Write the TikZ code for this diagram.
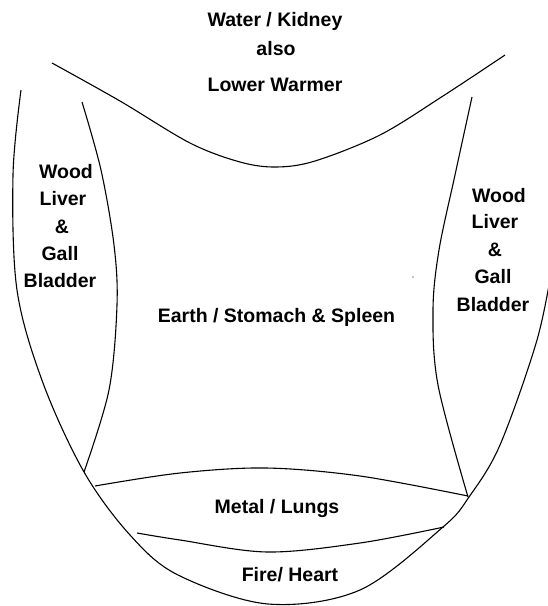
\documentclass[tikz,border=0pt]{standalone}
\usepackage{fontspec}
\setmainfont{Liberation Sans}
\begin{document}
\begin{tikzpicture}[x=1pt,y=-1pt,
  boundary/.style={line width=1.1pt, black},
  lbl/.style={anchor=base, inner sep=0pt, font=\fontsize{19.5}{23}\selectfont\bfseries},
]
\useasboundingbox (0,0) rectangle (548,606);
\begin{scope}
\clip (0,0) rectangle (548,606);
% outer U
\draw[boundary] plot[smooth, tension=0.55] coordinates {
  (21,90) (13,175) (17,290) (43,383) (84,472)
  (130,535) (178,575) (268,604) (360,590)
  (443,527) (469,497) (500,445) (537,340) (553,262)};
\end{scope}
% top curve (water)
\draw[boundary] plot[smooth, tension=0.55] coordinates {
  (52,63) (120,101) (190,143) (240,162) (276,167) (315,161) (380,135) (443,96) (505,55)};
% left inner (wood)
\draw[boundary] plot[smooth, tension=0.55] coordinates {
  (82,102) (101,170) (114,245) (117,305) (109,390) (84,472)};
% right inner (wood)
\draw[boundary] plot[smooth, tension=0.55] coordinates {
  (472,97) (455,175) (439,250) (433,310) (438,385) (468,497)};
% metal top
\draw[boundary] plot[smooth, tension=0.55] coordinates {
  (95,486) (180,473) (266,468) (360,476) (468,496)};
% metal bottom / fire top
\draw[boundary] plot[smooth, tension=0.55] coordinates {
  (137,533) (180,540) (267,552) (360,543) (444,527)};
% stray dot
\fill[black] (413,277) circle (0.7);

% labels
\node[lbl] (w1) at (275,26) {Water / Kidney};
\node[lbl] (w2) at (276,55) {also};
\node[lbl] (w3) at (275,91) {Lower Warmer};

\node[lbl] (l1) at (66,178) {Wood};
\node[lbl] (l2) at (63,205) {Liver};
\node[lbl] (l3) at (62,233) {\&};
\node[lbl] (l4) at (60,260) {Gall};
\node[lbl] (l5) at (60,287) {Bladder};

\node[lbl] (r1) at (499,202) {Wood};
\node[lbl] (r2) at (495,228) {Liver};
\node[lbl] (r3) at (495,256) {\&};
\node[lbl] (r4) at (493,283) {Gall};
\node[lbl] (r5) at (493,311) {Bladder};

\node[lbl] (e) at (276.5,322) {Earth / Stomach \& Spleen};
\node[lbl] (m) at (277,513) {Metal / Lungs};
\node[lbl] (f) at (290,581) {Fire/ Heart};
\end{tikzpicture}
\end{document}
